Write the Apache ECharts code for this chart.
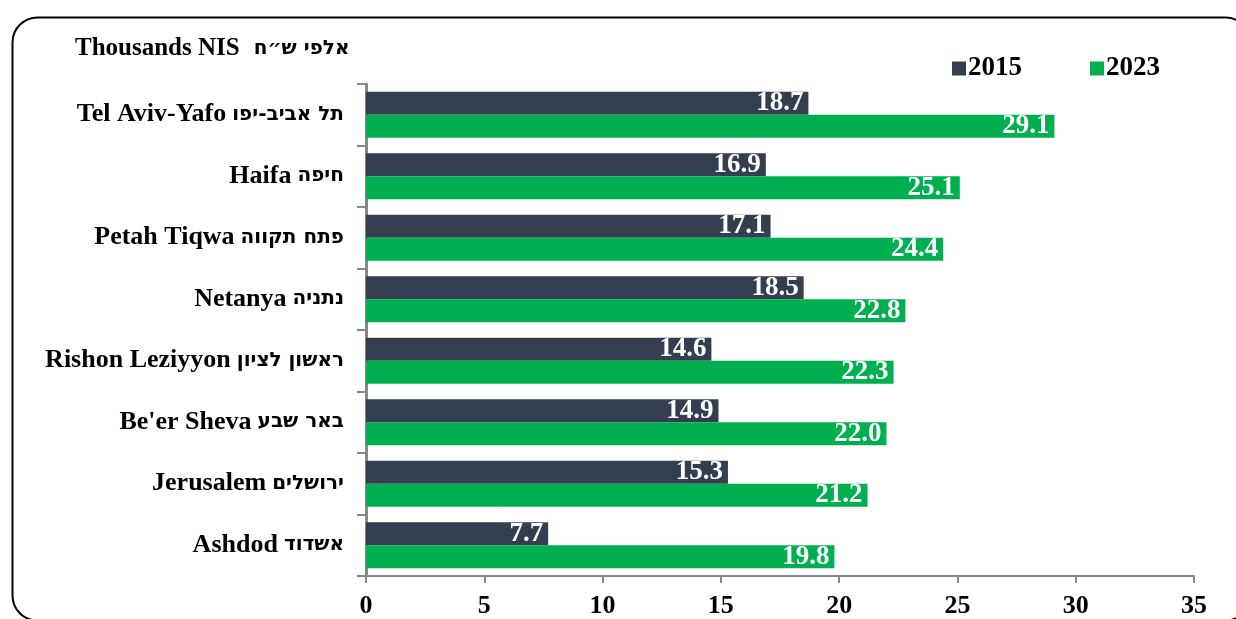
<!DOCTYPE html>
<html>
<head>
<meta charset="utf-8">
<script src="https://cdn.jsdelivr.net/npm/echarts@6/dist/echarts.min.js"></script>
<style>
html,body{margin:0;padding:0;background:#fff;}
#c{width:1236px;height:619px;}
</style>
</head>
<body>
<div id="c"></div>
<script>
const categories = [
  "Tel Aviv-Yafo  תל אביב-יפו",
  "Haifa חיפה",
  "Petah Tiqwa פתח תקווה",
  "Netanya נתניה",
  "Rishon Leziyyon ראשון לציון",
  "Be'er Sheva באר שבע",
  "Jerusalem ירושלים",
  "Ashdod אשדוד"
];
const values2015 = [18.7, 16.9, 17.1, 18.5, 14.6, 14.9, 15.3, 7.7];
const values2023 = [29.1, 25.1, 24.4, 22.8, 22.3, 22.0, 21.2, 19.8];
const seriesNames = ["2015", "2023"];
const unitTitleEn = "Thousands NIS";
const unitTitleHe = "אלפי ש״ח";

const FONT = '"Liberation Serif", "Times New Roman", serif';
const HEFONT = '"DejaVu Sans", "Liberation Sans", sans-serif';
const chart = echarts.init(document.getElementById('c'), null, {renderer: 'canvas'});

function splitLabel(s) {
  const i = s.search(/[\u0590-\u05FF]/);
  if (i < 0) return {en: s, he: ''};
  return {en: s.slice(0, i).trim(), he: s.slice(i)};
}
const labelStyle = {
  show: true, position: 'insideRight', distance: 5,
  color: '#fff', fontFamily: FONT, fontWeight: 'bold', fontSize: 27,
  formatter: p => p.value.toFixed(1)
};
chart.setOption({
  animation: false,
  textStyle: {fontFamily: FONT},
  graphic: [
    {type: 'rect', left: 10, top: 15, shape: {width: 1238, height: 603, r: 25},
     style: {fill: 'none', stroke: '#000', lineWidth: 2}, z: 0},
    {type: 'text', left: 75, top: 36,
     style: {
       text: '{en|' + unitTitleEn + '}{gap|}{he|' + unitTitleHe + '}',
       rich: {
         en: {fontFamily: FONT, fontWeight: 'bold', fontSize: 25, fill: '#000'},
         gap: {width: 14},
         he: {fontFamily: HEFONT, fontWeight: 'bold', fontSize: 20, fill: '#000'}
       }
     }}
  ],
  legend: {
    data: seriesNames, left: 947, top: 50, itemWidth: 14, itemHeight: 14, itemGap: 68,
    icon: 'rect',
    textStyle: {fontFamily: FONT, fontWeight: 'bold', fontSize: 27, color: '#000', padding: [0,0,0,-3]}
  },
  grid: {left: 366, right: 42, top: 84, bottom: 43, containLabel: false},
  xAxis: {
    type: 'value', min: 0, max: 35, interval: 5,
    axisLine: {show: true, lineStyle: {color: '#888', width: 2}},
    axisTick: {show: true, length: 7, lineStyle: {color: '#888', width: 2}},
    splitLine: {show: false},
    axisLabel: {color: '#000', fontFamily: FONT, fontWeight: 'bold', fontSize: 26, margin: 17}
  },
  yAxis: {
    type: 'category', data: categories, inverse: true,
    axisLine: {show: true, lineStyle: {color: '#888', width: 3}},
    axisTick: {show: true, length: 9, alignWithLabel: false, lineStyle: {color: '#888', width: 2}},
    axisLabel: {
      margin: 22,
      formatter: v => { const p = splitLabel(v); return '{en|' + p.en + '}  {he|' + p.he + '}'; },
      rich: {
        en: {color: '#000', fontFamily: FONT, fontWeight: 'bold', fontSize: 26},
        he: {color: '#000', fontFamily: HEFONT, fontWeight: 'bold', fontSize: 20}
      }
    }
  },
  series: [
    {name: seriesNames[0], type: 'bar', data: values2015, barGap: '0%', barCategoryGap: '25%',
     itemStyle: {color: '#333F50'}, label: labelStyle},
    {name: seriesNames[1], type: 'bar', data: values2023, barGap: '0%', barCategoryGap: '25%',
     itemStyle: {color: '#00B050'}, label: labelStyle}
  ]
});
</script>
</body>
</html>
